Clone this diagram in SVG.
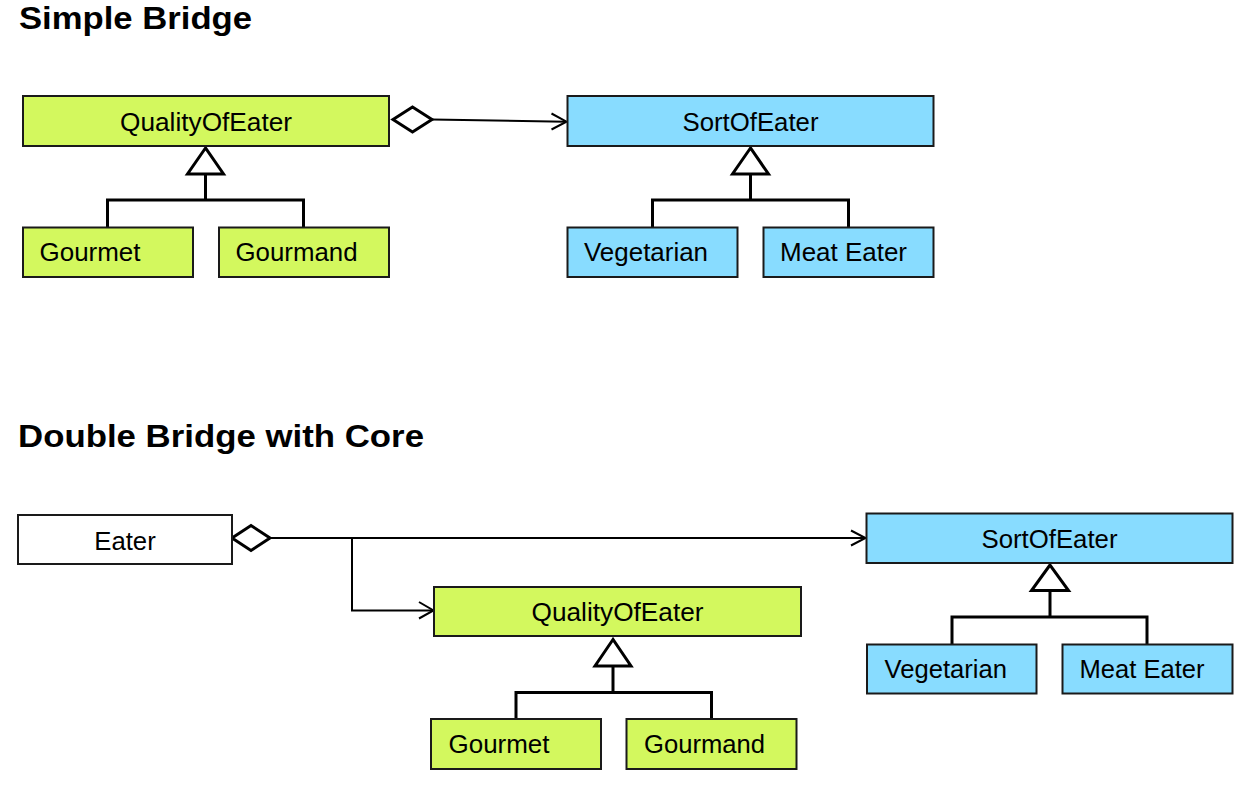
<svg xmlns="http://www.w3.org/2000/svg" width="1241" height="788" viewBox="0 0 1241 788">
<style>
.box{stroke:#1a1a1a;stroke-width:2}
.green{fill:#D3F85E}
.blue{fill:#88DCFF}
.white{fill:#ffffff}
.lbl{font-family:"Liberation Sans",Arial,sans-serif;font-size:25px;fill:#000}
.title{font-family:"Liberation Sans",Arial,sans-serif;font-size:31px;font-weight:bold;fill:#000}
.assoc{fill:none;stroke:#000;stroke-width:2}
.gen{fill:none;stroke:#000;stroke-width:3}
.tri{fill:#fff;stroke:#000;stroke-width:3;stroke-linejoin:miter}
.dia{fill:#fff;stroke:#000;stroke-width:3}
</style>
<rect width="1241" height="788" fill="#ffffff"/>
<text class="title" x="19" y="28.5" textLength="233" lengthAdjust="spacingAndGlyphs">Simple Bridge</text>
<text class="title" x="18" y="447" textLength="406" lengthAdjust="spacingAndGlyphs">Double Bridge with Core</text>

<g id="connectors">
  <!-- top: aggregation QualityOfEater -> SortOfEater -->
  <polygon class="dia" points="393,119.5 412.5,107 432,119.5 412.5,132"/>
  <line class="assoc" x1="432" y1="119.5" x2="566" y2="121.7"/>
  <polyline class="assoc" points="551.5,113.5 566.5,121.7 551.5,129.5"/>
  <!-- top generalization Quality -->
  <polyline class="gen" points="107.5,228 107.5,200 303.5,200 303.5,228"/>
  <line class="gen" x1="205.5" y1="174" x2="205.5" y2="200"/>
  <polygon class="tri" points="205.5,148 187.5,174 223.5,174"/>
  <!-- top generalization Sort -->
  <polyline class="gen" points="652.5,228 652.5,200 848.5,200 848.5,228"/>
  <line class="gen" x1="750.5" y1="174" x2="750.5" y2="200"/>
  <polygon class="tri" points="750.5,148 732.5,174 768.5,174"/>

  <!-- bottom: aggregation from Eater -->
  <polygon class="dia" points="232,538 251,525.5 270,538 251,550.5"/>
  <line class="assoc" x1="270" y1="538" x2="865" y2="538"/>
  <polyline class="assoc" points="851,530.5 865.5,538 851,545.5"/>
  <polyline class="assoc" points="352,538 352,610.5 433,610.5"/>
  <polyline class="assoc" points="419,602 433.5,610.5 419,618.5"/>
  <!-- bottom generalization Quality -->
  <polyline class="gen" points="516,719 516,692.5 711.5,692.5 711.5,719"/>
  <line class="gen" x1="613" y1="666" x2="613" y2="692.5"/>
  <polygon class="tri" points="613,639.5 595,666 631,666"/>
  <!-- bottom generalization Sort -->
  <polyline class="gen" points="952,645 952,617 1147,617 1147,645"/>
  <line class="gen" x1="1050" y1="590.5" x2="1050" y2="617"/>
  <polygon class="tri" points="1050,565 1031.5,590.5 1068.5,590.5"/>
</g>

<g id="top-quality">
  <rect class="box green" x="23" y="96" width="366" height="50"/>
  <text class="lbl" x="206" y="131" text-anchor="middle" textLength="172" lengthAdjust="spacingAndGlyphs">QualityOfEater</text>
</g>
<g id="top-gourmet">
  <rect class="box green" x="23" y="227.5" width="170" height="49.5"/>
  <text class="lbl" x="39.5" y="261" textLength="101" lengthAdjust="spacingAndGlyphs">Gourmet</text>
</g>
<g id="top-gourmand">
  <rect class="box green" x="219" y="227.5" width="170" height="49.5"/>
  <text class="lbl" x="235.5" y="261" textLength="122" lengthAdjust="spacingAndGlyphs">Gourmand</text>
</g>
<g id="top-sort">
  <rect class="box blue" x="567.5" y="96" width="366" height="50"/>
  <text class="lbl" x="750.5" y="131" text-anchor="middle" textLength="136" lengthAdjust="spacingAndGlyphs">SortOfEater</text>
</g>
<g id="top-vegetarian">
  <rect class="box blue" x="567.5" y="227.5" width="170" height="49.5"/>
  <text class="lbl" x="584" y="261" textLength="124" lengthAdjust="spacingAndGlyphs">Vegetarian</text>
</g>
<g id="top-meateater">
  <rect class="box blue" x="763.5" y="227.5" width="170" height="49.5"/>
  <text class="lbl" x="780" y="261" textLength="127" lengthAdjust="spacingAndGlyphs">Meat Eater</text>
</g>

<g id="eater">
  <rect class="box white" x="18" y="515" width="214" height="49"/>
  <text class="lbl" x="125" y="549.5" text-anchor="middle" textLength="61.5" lengthAdjust="spacingAndGlyphs">Eater</text>
</g>
<g id="bottom-quality">
  <rect class="box green" x="434" y="587" width="367" height="49"/>
  <text class="lbl" x="617.5" y="620.5" text-anchor="middle" textLength="172" lengthAdjust="spacingAndGlyphs">QualityOfEater</text>
</g>
<g id="bottom-gourmet">
  <rect class="box green" x="431" y="719" width="170" height="50"/>
  <text class="lbl" x="448.5" y="752.5" textLength="101" lengthAdjust="spacingAndGlyphs">Gourmet</text>
</g>
<g id="bottom-gourmand">
  <rect class="box green" x="626.5" y="719" width="170" height="50"/>
  <text class="lbl" x="644" y="752.5" textLength="121" lengthAdjust="spacingAndGlyphs">Gourmand</text>
</g>
<g id="bottom-sort">
  <rect class="box blue" x="866.5" y="513.5" width="366" height="49.5"/>
  <text class="lbl" x="1049.5" y="548" text-anchor="middle" textLength="136" lengthAdjust="spacingAndGlyphs">SortOfEater</text>
</g>
<g id="bottom-vegetarian">
  <rect class="box blue" x="867" y="644.5" width="169.5" height="49"/>
  <text class="lbl" x="884.5" y="678" textLength="122.5" lengthAdjust="spacingAndGlyphs">Vegetarian</text>
</g>
<g id="bottom-meateater">
  <rect class="box blue" x="1062.5" y="644.5" width="170" height="49"/>
  <text class="lbl" x="1079.5" y="678" textLength="125" lengthAdjust="spacingAndGlyphs">Meat Eater</text>
</g>
</svg>
